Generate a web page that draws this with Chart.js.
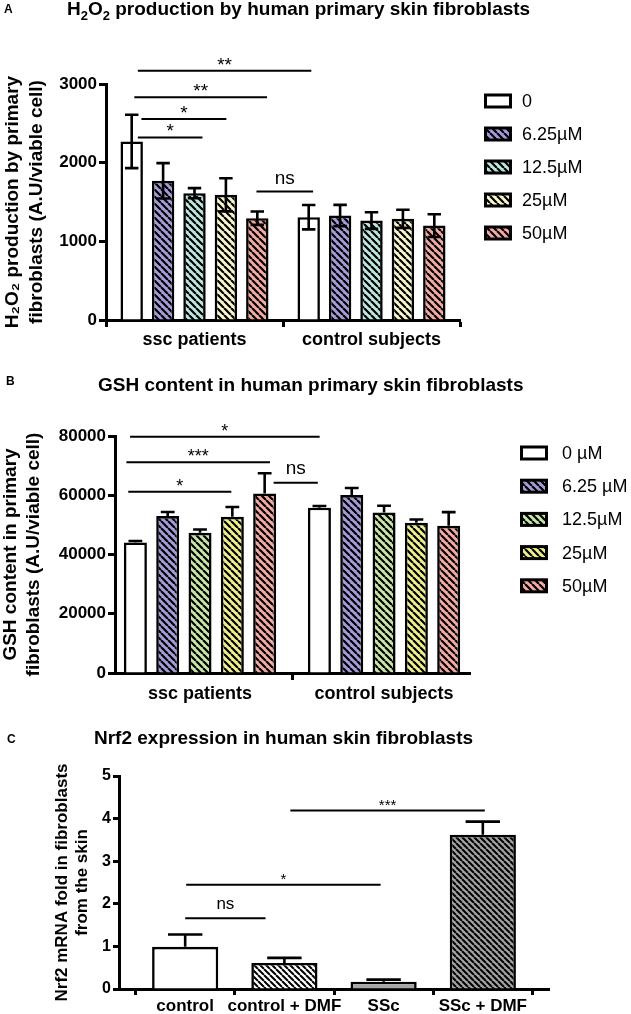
<!DOCTYPE html>
<html>
<head>
<meta charset="utf-8">
<script src="https://cdn.jsdelivr.net/npm/chart.js@4.4.1/dist/chart.umd.min.js"></script>
<style>
  body { margin: 0; background: #fff; font-family: 'Liberation Sans', Arial, sans-serif; }
  #page { position: relative; width: 631px; height: 1014px; overflow: hidden; background: #fff; }
  canvas { position: absolute; left: 0; }
  .ttl { position: absolute; font-weight: bold; font-size: 19px; line-height: 19px; white-space: nowrap; color: #000; }
  .ttl sub { font-size: 13px; vertical-align: -5px; line-height: 0; }
  .tag { position: absolute; font-weight: bold; font-size: 12px; line-height: 12px; color: #000; }
</style>
</head>
<body>
<div id="page">
  <canvas id="chA" width="631" height="360" style="top:0"></canvas>
  <canvas id="chB" width="631" height="345" style="top:360px"></canvas>
  <canvas id="chC" width="631" height="309" style="top:705px"></canvas>

  <div class="tag" style="left:4px;top:3px">A</div>
  <div class="ttl" style="left:67px;top:-1px">H<sub>2</sub>O<sub>2</sub> production by human primary skin fibroblasts</div>
  <div class="tag" style="left:6px;top:375px">B</div>
  <div class="ttl" style="left:98px;top:375px">GSH content in human primary skin fibroblasts</div>
  <div class="tag" style="left:7px;top:733px">C</div>
  <div class="ttl" style="left:94px;top:728px">Nrf2 expression in human skin fibroblasts</div>
</div>

<script>
// ── Panel A : H2O2 production (mean, sd) ──
const groupsAB = ['ssc patients', 'control subjects'];
const dosesA   = ['0', '6.25µM', '12.5µM', '25µM', '50µM'];
const h2o2_0    = [2270, 1307];
const h2o2_625  = [1769, 1328];
const h2o2_125  = [1612, 1264];
const h2o2_25   = [1591, 1286];
const h2o2_50   = [1294, 1200];
const h2o2Err_0   = [340, 155];
const h2o2Err_625 = [225, 135];
const h2o2Err_125 = [65, 105];
const h2o2Err_25  = [210, 115];
const h2o2Err_50  = [85, 145];
// significance bars A (x in group units, y in data units)
const sigFromA = [-0.32, -0.34, -0.30, -0.32, 0.35];
const sigToA   = [0.66, 0.41, 0.18, 0.045, 0.67];
const sigAtA   = [3169, 2830, 2554, 2321, 1633];
const sigMarkA = ['**', '**', '*', '*', 'ns'];

// ── Panel B : GSH content ──
const dosesB  = ['0 µM', '6.25 µM', '12.5µM', '25µM', '50µM'];
const gsh_0   = [44056, 55775];
const gsh_625 = [52958, 60056];
const gsh_125 = [47324, 54197];
const gsh_25  = [52732, 50704];
const gsh_50  = [60620, 49690];
const gshErr_0   = [500, 600];
const gshErr_625 = [1400, 2400];
const gshErr_125 = [1100, 2250];
const gshErr_25  = [3300, 1100];
const gshErr_50  = [6800, 4600];
const sigFromB = [-0.38, -0.40, -0.39, 0.40];
const sigToB   = [0.65, 0.38, 0.17, 0.64];
const sigAtB   = [79775, 71100, 61180, 64225];
const sigMarkB = ['*', '***', '*', 'ns'];

// ── Panel C : Nrf2 expression ──
const groupsC = ['control', 'control + DMF', 'SSc', 'SSc + DMF'];
const nrf2    = [0.99, 0.61, 0.17, 3.62];
const nrf2Err = [0.29, 0.12, 0.05, 0.31];
const sigFromC = [1.06, 0.01, 0.0];
const sigToC   = [3.02, 1.97, 0.81];
const sigAtC   = [4.19, 2.45, 1.66];
const sigMarkC = ['***', '*', 'ns'];

Chart.defaults.font.family = "'Liberation Sans', Arial, sans-serif";
Chart.defaults.color = '#000';

// hachures "\" sur fond coloré
function hatch(bg, size, lw) {
  const c = document.createElement('canvas');
  c.width = size; c.height = size;
  const g = c.getContext('2d');
  g.fillStyle = bg; g.fillRect(0, 0, size, size);
  g.strokeStyle = '#000'; g.lineWidth = lw;
  g.beginPath();
  for (let k = -1; k <= 1; k++) { g.moveTo(k * size, 0); g.lineTo(k * size + size, size); }
  g.stroke();
  return g.createPattern(c, 'repeat');
}

const pts = arr => arr.map((v, i) => ({ x: i, y: v }));

// barres d'erreur (haut seul ou haut+bas)
function errorBars(errs, both, capFrac, lw) {
  return {
    id: 'errorBars',
    afterDatasetsDraw(chart) {
      const ctx = chart.ctx, ys = chart.scales.y;
      ctx.save();
      ctx.strokeStyle = '#000'; ctx.lineWidth = lw; ctx.lineCap = 'butt';
      errs.forEach((set, i) => {
        chart.getDatasetMeta(i).data.forEach((bar, j) => {
          const v  = chart.data.datasets[i].data[j].y;
          const hi = ys.getPixelForValue(v + set[j]);
          const lo = both ? ys.getPixelForValue(v - set[j]) : bar.y;
          const half = bar.width * capFrac / 2;
          ctx.beginPath();
          ctx.moveTo(bar.x, lo); ctx.lineTo(bar.x, hi);
          ctx.moveTo(bar.x - half, hi); ctx.lineTo(bar.x + half, hi);
          if (both) { ctx.moveTo(bar.x - half, lo); ctx.lineTo(bar.x + half, lo); }
          ctx.stroke();
        });
      });
      ctx.restore();
    }
  };
}

// traits de significativité
function sigBars(from, to, at, marks, o) {
  return {
    id: 'sigBars',
    afterDraw(chart) {
      const { ctx, scales: { x, y } } = chart;
      ctx.save();
      ctx.lineWidth = o.lw; ctx.strokeStyle = '#000'; ctx.fillStyle = '#000';
      ctx.textAlign = 'center'; ctx.textBaseline = 'alphabetic';
      marks.forEach((m, i) => {
        const x1 = x.getPixelForValue(from[i]), x2 = x.getPixelForValue(to[i]);
        const py = y.getPixelForValue(at[i]);
        ctx.beginPath(); ctx.moveTo(x1, py); ctx.lineTo(x2, py); ctx.stroke();
        const ns = m === 'ns';
        ctx.font = ns ? o.nsFont : o.starFont;
        ctx.fillText(m, (x1 + x2) / 2, py - (ns ? o.nsGap : o.starGap));
      });
      ctx.restore();
    }
  };
}

// légende à droite, cases hachurées
function boxLegend(o) {
  return {
    id: 'boxLegend',
    afterDraw(chart) {
      const ctx = chart.ctx;
      ctx.save();
      ctx.font = o.font; ctx.textBaseline = 'middle'; ctx.textAlign = 'left';
      chart.data.datasets.forEach((ds, i) => {
        const cy = o.y + i * o.dy;
        ctx.fillStyle = ds.backgroundColor;
        ctx.fillRect(o.x, cy - o.h / 2, o.w, o.h);
        ctx.lineWidth = 3; ctx.strokeStyle = '#000';
        ctx.strokeRect(o.x, cy - o.h / 2, o.w, o.h);
        ctx.fillStyle = '#000';
        ctx.fillText(ds.label, o.tx, cy + 1);
      });
      ctx.restore();
    }
  };
}

function barChart(id, o) {
  return new Chart(document.getElementById(id), {
    type: 'bar',
    data: { datasets: o.datasets },
    options: {
      responsive: false, animation: false,
      layout: { padding: o.pad },
      datasets: { bar: { borderColor: '#000', borderWidth: o.bw, categoryPercentage: o.cat, barPercentage: o.bar } },
      plugins: { legend: { display: false }, tooltip: { enabled: false } },
      scales: {
        x: {
          type: 'linear', min: o.xMin, max: o.xMax, offset: false,
          afterBuildTicks: s => { s.ticks = o.labels.map((_, i) => ({ value: i })); },
          afterFit: s => { s.height = o.xH; },
          ticks: { callback: v => o.labels[v], color: '#000', font: o.xFont, padding: o.xPad,
                   maxRotation: 0, minRotation: 0, autoSkip: false },
          grid: { drawOnChartArea: false, tickLength: o.tick, tickWidth: 3, tickColor: '#000' },
          border: { color: '#000', width: 3 }
        },
        y: {
          min: 0, max: o.yMax,
          afterFit: s => { s.width = o.yW; },
          ticks: { stepSize: o.yStep, color: '#000', font: { size: o.yTickSize, weight: 'bold' }, padding: 2,
                   callback: v => String(v) },
          grid: { drawOnChartArea: false, tickLength: o.yTick, tickWidth: 3, tickColor: '#000' },
          border: { color: '#000', width: 3 },
          title: { display: true, text: o.yTitle, color: '#000',
                   font: { size: o.yTitleSize, weight: 'bold', lineHeight: o.yTitleLH },
                   padding: { top: o.yTitlePad, bottom: 0 } }
        }
      }
    },
    plugins: o.plugins
  });
}

// ── A ──
const colA = ['#ffffff', '#a39cd9', '#bde6df', '#faf6cc', '#f3aaa3'];
const seriesA = [h2o2_0, h2o2_625, h2o2_125, h2o2_25, h2o2_50];
barChart('chA', {
  datasets: seriesA.map((s, i) => ({
    label: dosesA[i], data: pts(s),
    backgroundColor: i === 0 ? colA[0] : hatch(colA[i], 7, 2.2)
  })),
  pad: { top: 84, right: 171, left: 0, bottom: 0 },
  bw: 2.6, cat: 0.887, bar: 0.714,
  xMin: -0.5, xMax: 1.5, labels: groupsAB, xH: 40, xPad: 2, tick: 7,
  xFont: { size: 18, weight: 'bold' },
  yMax: 3000, yStep: 1000, yW: 106, yTickSize: 17, yTick: 7,
  yTitle: ['H₂O₂ production by primary', 'fibroblasts (A.U/viable cell)'],
  yTitleSize: 19, yTitleLH: 1.3, yTitlePad: 0,
  plugins: [
    errorBars([h2o2Err_0, h2o2Err_625, h2o2Err_125, h2o2Err_25, h2o2Err_50], true, 0.6, 2.6),
    sigBars(sigFromA, sigToA, sigAtA, sigMarkA, { lw: 2, starFont: '19px "Liberation Sans", Arial', nsFont: '19px "Liberation Sans", Arial', starGap: 0, nsGap: 8 }),
    boxLegend({ x: 485.5, y: 101, dy: 33, w: 25, h: 12, tx: 522, font: '18px "Liberation Sans", Arial' })
  ]
});

// ── B ──
const colB = ['#ffffff', '#a39cd9', '#c7e6a7', '#eff08c', '#f3aaa3'];
const seriesB = [gsh_0, gsh_625, gsh_125, gsh_25, gsh_50];
barChart('chB', {
  datasets: seriesB.map((s, i) => ({
    label: dosesB[i], data: pts(s),
    backgroundColor: i === 0 ? colB[0] : hatch(colB[i], 7, 2.2)
  })),
  pad: { top: 76, right: 161, left: 0, bottom: 0 },
  bw: 2.6, cat: 0.878, bar: 0.712,
  xMin: -0.462, xMax: 1.467, labels: groupsAB, xH: 32, xPad: 3, tick: 7,
  xFont: { size: 18, weight: 'bold' },
  yMax: 80000, yStep: 20000, yW: 115, yTickSize: 17, yTick: 7,
  yTitle: ['GSH content in primary', 'fibroblasts (A.U/viable cell)'],
  yTitleSize: 19, yTitleLH: 1.18, yTitlePad: 0,
  plugins: [
    errorBars([gshErr_0, gshErr_625, gshErr_125, gshErr_25, gshErr_50], false, 0.6, 2.6),
    sigBars(sigFromB, sigToB, sigAtB, sigMarkB, { lw: 2, starFont: '18px "Liberation Sans", Arial', nsFont: '19px "Liberation Sans", Arial', starGap: 0, nsGap: 9 }),
    boxLegend({ x: 521.5, y: 93, dy: 33.2, w: 25, h: 12, tx: 562, font: '18px "Liberation Sans", Arial' })
  ]
});

// ── C ──
const colC = [
  '#ffffff',
  hatch('#ffffff', 6, 2),
  '#a6a6a6',
  hatch('#a2a2a2', 6, 2)
];
barChart('chC', {
  datasets: [{ label: 'Nrf2', data: pts(nrf2), backgroundColor: colC }],
  pad: { top: 71, right: 82, left: 0, bottom: 0 },
  bw: 2.6, cat: 1, bar: 0.667,
  xMin: -0.667, xMax: 3.667, labels: groupsC, xH: 25, xPad: 1, tick: 6,
  xFont: { size: 17, weight: 'bold' },
  yMax: 5, yStep: 1, yW: 119, yTickSize: 16, yTick: 6,
  yTitle: ['Nrf2 mRNA fold in fibroblasts', 'from the skin'],
  yTitleSize: 17, yTitleLH: 1.2, yTitlePad: 52,
  plugins: [
    errorBars([nrf2Err], false, 0.52, 2.6),
    sigBars(sigFromC, sigToC, sigAtC, sigMarkC, { lw: 2, starFont: '15px "Liberation Sans", Arial', nsFont: '17px "Liberation Sans", Arial', starGap: 1, nsGap: 9 })
  ]
});
</script>
</body>
</html>
